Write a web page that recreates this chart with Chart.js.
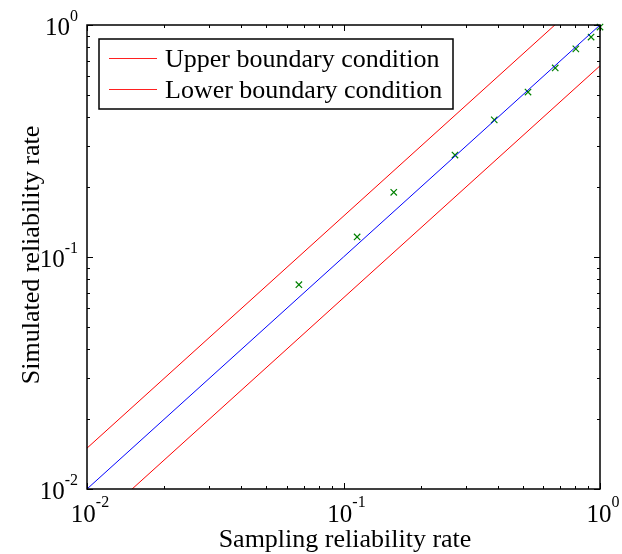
<!DOCTYPE html>
<html>
<head>
<meta charset="utf-8">
<script src="https://cdn.jsdelivr.net/npm/chart.js@4"></script>
<style>
  html, body { margin: 0; padding: 0; background: #fff; }
  #wrap { width: 622px; height: 554px; }
</style>
</head>
<body>
<div id="wrap"><canvas id="myChart" width="622" height="554"></canvas></div>
<script>
// values
const samplingRate = [0.067, 0.113, 0.157, 0.272, 0.387, 0.524, 0.669, 0.805, 0.923, 1.0];
const simulatedRate = [0.076, 0.122, 0.190, 0.275, 0.390, 0.514, 0.653, 0.789, 0.887, 0.98];
const lineX = [0.01, 1];
const upperY = [0.015, 1.5];
const equalY = [0.01, 1];
const lowerY = [0.00667, 0.667];
const majorTicks = [0.01, 0.1, 1];
const tickExp = ['-2', '-1', '0'];
const legendLabels = ['Upper boundary condition', 'Lower boundary condition'];

const FONT = '"Liberation Serif", "Times New Roman", serif';
const toXY = (xs, ys) => xs.map((x, i) => ({ x: x, y: ys[i] }));

// minor ticks 2..9 per decade
const minorTicks = [];
for (let d = 0; d < majorTicks.length - 1; d++) {
  for (let m = 2; m <= 9; m++) minorTicks.push(majorTicks[d] * m);
}

const matlabAxes = {
  id: 'matlabAxes',
  afterDraw(chart) {
    const c = chart.ctx;
    const a = chart.chartArea;
    const xs = chart.scales.x, ys = chart.scales.y;
    c.save();
    c.strokeStyle = '#000';
    c.lineWidth = 1;
    c.beginPath();
    // inward ticks on all four sides
    majorTicks.concat(minorTicks).forEach(v => {
      const len = majorTicks.includes(v) ? 6 : 3;
      const px = Math.round(xs.getPixelForValue(v)) + 0.5;
      c.moveTo(px, a.bottom); c.lineTo(px, a.bottom - len);
      c.moveTo(px, a.top); c.lineTo(px, a.top + len);
      const py = Math.round(ys.getPixelForValue(v)) + 0.5;
      c.moveTo(a.left, py); c.lineTo(a.left + len, py);
      c.moveTo(a.right, py); c.lineTo(a.right - len, py);
    });
    c.stroke();
    c.lineWidth = 1.5;
    c.strokeRect(a.left, a.top, a.right - a.left, a.bottom - a.top);

    // tick labels 10^n
    c.fillStyle = '#000';
    c.textBaseline = 'alphabetic';
    c.textAlign = 'left';
    majorTicks.forEach((v, i) => {
      c.font = '25px ' + FONT;
      const w10 = c.measureText('10').width;
      c.font = '16px ' + FONT;
      const we = c.measureText(tickExp[i]).width;

      const px = xs.getPixelForValue(v);
      const x0 = px + 3 - (w10 + we) / 2;
      c.font = '25px ' + FONT;
      c.fillText('10', x0, a.bottom + 33);
      c.font = '16px ' + FONT;
      c.fillText(tickExp[i], x0 + w10, a.bottom + 18);

      const py = ys.getPixelForValue(v);
      c.font = '25px ' + FONT;
      c.fillText('10', a.left - 9 - we - w10, py + 10);
      c.font = '16px ' + FONT;
      c.fillText(tickExp[i], a.left - 9 - we, py - 4);
    });

    // axis titles
    c.font = '26px ' + FONT;
    c.textAlign = 'center';
    c.fillText('Sampling reliability rate', 345, a.bottom + 58);
    c.save();
    c.translate(39, 255);
    c.rotate(-Math.PI / 2);
    c.fillText('Simulated reliability rate', 0, 0);
    c.restore();

    // legend box (both entries drawn red, as in the original)
    const lx = 99, ly = 39, lw = 354, lh = 70;
    c.fillStyle = '#fff';
    c.fillRect(lx, ly, lw, lh);
    c.lineWidth = 1.5;
    c.strokeStyle = '#000';
    c.strokeRect(lx, ly, lw, lh);
    c.font = '26px ' + FONT;
    c.textAlign = 'left';
    legendLabels.forEach((t, i) => {
      const yy = ly + 19 + i * 31;
      c.fillStyle = '#ff2020';
      c.fillRect(lx + 10, yy, 48, 1);
      c.fillStyle = '#000';
      c.fillText(t, lx + 66, yy + 9);
    });
    c.restore();
  }
};

new Chart(document.getElementById('myChart'), {
  type: 'scatter',
  data: {
    datasets: [
      {
        label: 'Upper', data: toXY(lineX, upperY), showLine: true,
        borderColor: 'rgb(255,0,0)', borderWidth: 1, pointRadius: 0
      },
      {
        label: 'Equal', data: toXY(lineX, equalY), showLine: true,
        borderColor: 'rgb(0,0,255)', borderWidth: 1, pointRadius: 0
      },
      {
        label: 'Lower', data: toXY(lineX, lowerY), showLine: true,
        borderColor: 'rgb(255,0,0)', borderWidth: 1, pointRadius: 0
      },
      {
        label: 'Points', data: toXY(samplingRate, simulatedRate), showLine: false,
        pointStyle: 'crossRot', pointRadius: 4.5, borderColor: 'rgb(0,128,0)',
        borderWidth: 1.2, backgroundColor: 'rgb(0,128,0)', clip: false
      }
    ]
  },
  options: {
    responsive: false,
    animation: false,
    layout: { padding: { left: 87, right: 22, top: 25, bottom: 65 } },
    plugins: { legend: { display: false }, tooltip: { enabled: false } },
    scales: {
      x: { type: 'logarithmic', min: 0.01, max: 1, display: false },
      y: { type: 'logarithmic', min: 0.01, max: 1, display: false }
    }
  },
  plugins: [matlabAxes]
});
</script>
</body>
</html>
